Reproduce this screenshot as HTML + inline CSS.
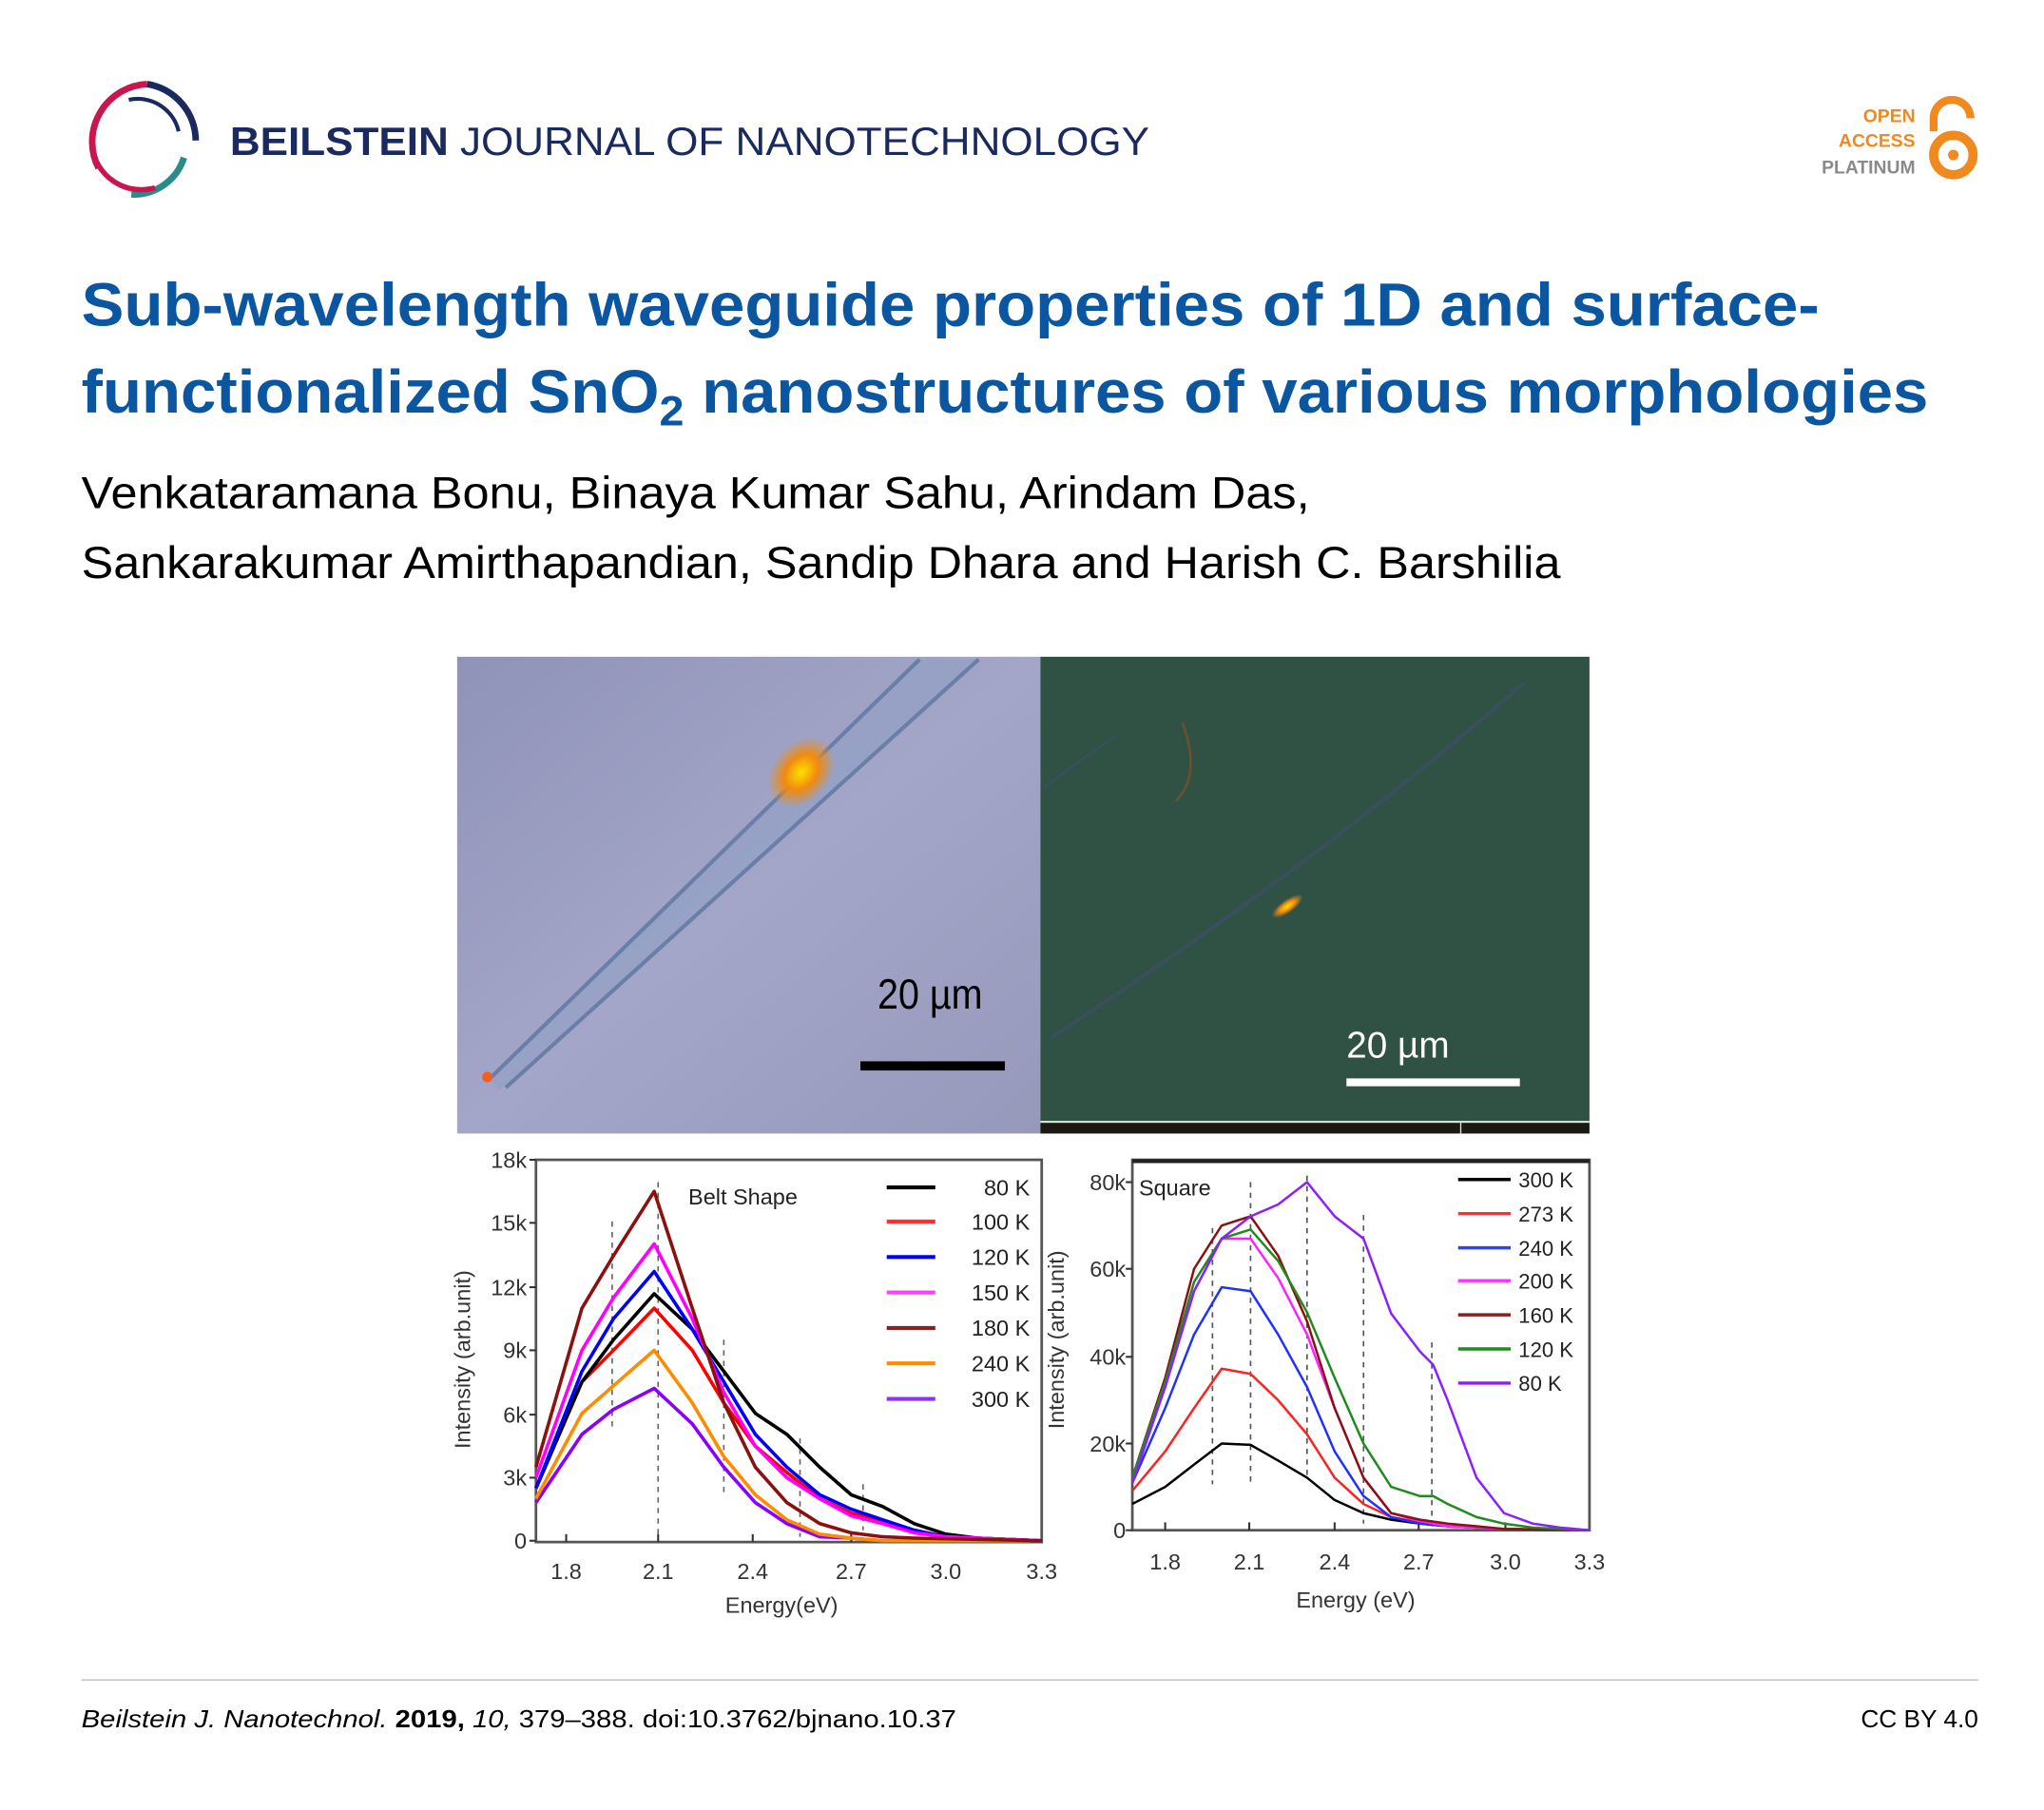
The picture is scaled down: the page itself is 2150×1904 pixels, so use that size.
<!DOCTYPE html>
<html><head><meta charset="utf-8"><style>
html,body{margin:0;padding:0;background:#fff;}
svg{display:block;}
text{font-family:"Liberation Sans",Arial,sans-serif;}
</style></head><body>
<svg width="2150" height="1904" viewBox="0 0 1556 1378" xmlns="http://www.w3.org/2000/svg">
<defs>
<linearGradient id="lp" x1="0" y1="0" x2="1" y2="1"><stop offset="0" stop-color="#8f93b8"/><stop offset="0.5" stop-color="#a3a6c8"/><stop offset="1" stop-color="#9799bb"/></linearGradient>
<radialGradient id="glow" cx="0.5" cy="0.5" r="0.5"><stop offset="0" stop-color="#ffe000"/><stop offset="0.5" stop-color="#f08a10"/><stop offset="1" stop-color="#f08a10" stop-opacity="0"/></radialGradient>
</defs>
<!-- Logo -->
<path d="M75,128 A44,44 0 0 1 112,64" fill="none" stroke="#c8174f" stroke-width="5"/>
<path d="M112,64 A44,44 0 0 1 149,107" fill="none" stroke="#1b2a5e" stroke-width="5"/>
<path d="M140,120 A40,40 0 0 1 100,148" fill="none" stroke="#2b8a8a" stroke-width="5"/>
<path d="M70,112 A38,38 0 0 0 118,143" fill="none" stroke="#c8174f" stroke-width="4"/>
<path d="M98,76 A32,32 0 0 1 136,100" fill="none" stroke="#1b2a5e" stroke-width="3"/>
<text x="175" y="118" font-size="30" fill="#1b2a5e" textLength="700" lengthAdjust="spacingAndGlyphs"><tspan font-weight="bold">BEILSTEIN</tspan> JOURNAL OF NANOTECHNOLOGY</text>
<!-- Open access -->
<text x="1458" y="93" font-size="14" font-weight="bold" fill="#f0891e" text-anchor="end">OPEN</text>
<text x="1458" y="112" font-size="14" font-weight="bold" fill="#f0891e" text-anchor="end">ACCESS</text>
<text x="1458" y="132" font-size="14" font-weight="bold" fill="#8a8a8a" text-anchor="end">PLATINUM</text>
<path d="M1472,100 V90 A14,14 0 0 1 1500,90" fill="none" stroke="#f0891e" stroke-width="6"/>
<circle cx="1487" cy="118" r="15" fill="none" stroke="#f0891e" stroke-width="7"/>
<circle cx="1487" cy="118" r="4" fill="#f0891e"/>
<!-- Title -->
<text x="62" y="248" font-size="46" font-weight="bold" fill="#0a56a0" textLength="1323" lengthAdjust="spacingAndGlyphs">Sub-wavelength waveguide properties of 1D and surface-</text>
<text x="62" y="314" font-size="46" font-weight="bold" fill="#0a56a0" textLength="1406" lengthAdjust="spacingAndGlyphs">functionalized SnO<tspan font-size="32" dy="10">2</tspan><tspan dy="-10"> nanostructures of various morphologies</tspan></text>
<text x="62" y="387" font-size="34" fill="#000" textLength="935" lengthAdjust="spacingAndGlyphs">Venkataramana Bonu, Binaya Kumar Sahu, Arindam Das,</text>
<text x="62" y="440" font-size="34" fill="#000" textLength="1126" lengthAdjust="spacingAndGlyphs">Sankarakumar Amirthapandian, Sandip Dhara and Harish C. Barshilia</text>
<!-- Photos -->
<rect x="348" y="500" width="444" height="363" fill="url(#lp)"/>
<path d="M372,822 L700,502 L745,502 L380,830 Z" fill="#8fa0c4" opacity="0.6"/>
<line x1="372" y1="822" x2="700" y2="502" stroke="#6a7fa8" stroke-width="3"/>
<line x1="385" y1="828" x2="745" y2="502" stroke="#6a7fa8" stroke-width="3"/>
<ellipse cx="610" cy="588" rx="22" ry="30" fill="url(#glow)" transform="rotate(40 610 588)"/>
<circle cx="371" cy="820" r="4" fill="#f06020"/>
<text x="668" y="768" font-size="32" fill="#000" textLength="80" lengthAdjust="spacingAndGlyphs">20 µm</text>
<rect x="655" y="808" width="110" height="7" fill="#000"/>
<rect x="792" y="500" width="418" height="355" fill="#2f5245"/>
<path d="M800,790 Q1000,660 1160,520" fill="none" stroke="#3a4e5c" stroke-width="3"/>
<path d="M795,600 Q820,580 850,560" fill="none" stroke="#3a4e5c" stroke-width="2"/>
<path d="M900,550 Q915,590 895,610" fill="none" stroke="#6a5030" stroke-width="2"/>
<ellipse cx="980" cy="690" rx="14" ry="5" fill="url(#glow)" transform="rotate(-35 980 690)"/>
<text x="1025" y="805" font-size="28" fill="#fff">20 µm</text>
<rect x="1025" y="821" width="132" height="6" fill="#fff"/>
<rect x="792" y="855" width="418" height="8" fill="#1a1a10"/>
<line x1="792" y1="854" x2="1210" y2="854" stroke="#ddd" stroke-width="1.5"/>
<line x1="1112" y1="854" x2="1112" y2="863" stroke="#ddd" stroke-width="1"/>
<!-- Left chart -->
<g>
<rect x="408" y="883" width="385" height="291" fill="none" stroke="#555" stroke-width="2"/>
<g stroke="#333" stroke-width="1.5">
<line x1="403" y1="883" x2="408" y2="883"/><line x1="403" y1="931" x2="408" y2="931"/><line x1="403" y1="980" x2="408" y2="980"/><line x1="403" y1="1028" x2="408" y2="1028"/><line x1="403" y1="1077" x2="408" y2="1077"/><line x1="403" y1="1125" x2="408" y2="1125"/><line x1="403" y1="1173" x2="408" y2="1173"/>
<line x1="431" y1="1174" x2="431" y2="1168"/><line x1="501" y1="1174" x2="501" y2="1168"/><line x1="573" y1="1174" x2="573" y2="1168"/><line x1="648" y1="1174" x2="648" y2="1168"/><line x1="720" y1="1174" x2="720" y2="1168"/>
</g>
<g font-size="17" fill="#333" text-anchor="end">
<text x="401" y="889">18k</text><text x="401" y="937">15k</text><text x="401" y="986">12k</text><text x="401" y="1034">9k</text><text x="401" y="1083">6k</text><text x="401" y="1131">3k</text><text x="401" y="1179">0</text>
</g>
<g font-size="17" fill="#333" text-anchor="middle">
<text x="431" y="1202">1.8</text><text x="501" y="1202">2.1</text><text x="573" y="1202">2.4</text><text x="648" y="1202">2.7</text><text x="720" y="1202">3.0</text><text x="793" y="1202">3.3</text>
<text x="595" y="1228">Energy(eV)</text>
</g>
<text transform="translate(358,1035) rotate(-90)" font-size="17" fill="#333" text-anchor="middle">Intensity (arb.unit)</text>
<text x="524" y="917" font-size="17" fill="#222">Belt Shape</text>
<g stroke="#666" stroke-width="1.2" stroke-dasharray="4,4">
<line x1="466" y1="930" x2="466" y2="1090"/><line x1="501" y1="900" x2="501" y2="1170"/><line x1="551" y1="1020" x2="551" y2="1140"/><line x1="609" y1="1095" x2="609" y2="1170"/><line x1="657" y1="1130" x2="657" y2="1165"/>
</g>
<g fill="none" stroke-width="2.6" stroke-linejoin="round">
<polyline stroke="#8a00ff" points="408,1144 443,1092 467,1073 498,1057 527,1084 551,1117 575,1144 599,1160 624,1170 648,1171 672,1173 793,1173"/>
<polyline stroke="#ff8c00" points="408,1141 443,1076 467,1055 498,1028 527,1068 551,1109 575,1138 599,1157 624,1168 648,1171 672,1173 793,1173"/>
<polyline stroke="#ff0000" points="408,1133 443,1052 467,1028 498,996 527,1028 551,1068 575,1101 599,1121 624,1141 648,1152 672,1158 696,1165 720,1170 744,1171 793,1173"/>
<polyline stroke="#000" points="408,1133 443,1052 467,1020 498,985 527,1012 551,1044 575,1076 599,1092 624,1117 648,1138 672,1147 696,1160 720,1168 744,1171 793,1173"/>
<polyline stroke="#0000ff" points="408,1133 443,1044 467,1004 498,968 527,1012 551,1052 575,1092 599,1117 624,1138 648,1149 672,1157 696,1165 720,1170 744,1171 793,1173"/>
<polyline stroke="#ff00ff" points="408,1125 443,1028 467,988 498,947 527,1004 551,1060 575,1101 599,1125 624,1141 648,1154 672,1160 696,1167 720,1170 744,1171 793,1173"/>
<polyline stroke="#8b1010" points="408,1117 443,996 467,956 498,907 527,996 551,1068 575,1117 599,1144 624,1160 648,1167 672,1170 696,1171 793,1173"/>
</g>
<g stroke-width="3">
<line x1="675" y1="904" x2="712" y2="904" stroke="#000"/><line x1="675" y1="930" x2="712" y2="930" stroke="#ff3030"/><line x1="675" y1="957" x2="712" y2="957" stroke="#0000ff"/><line x1="675" y1="984" x2="712" y2="984" stroke="#ff40ff"/><line x1="675" y1="1011" x2="712" y2="1011" stroke="#8b2020"/><line x1="675" y1="1038" x2="712" y2="1038" stroke="#ff8c00"/><line x1="675" y1="1065" x2="712" y2="1065" stroke="#9030ff"/>
</g>
<g font-size="17" fill="#222" text-anchor="end">
<text x="784" y="910">80 K</text><text x="784" y="936">100 K</text><text x="784" y="963">120 K</text><text x="784" y="990">150 K</text><text x="784" y="1017">180 K</text><text x="784" y="1044">240 K</text><text x="784" y="1071">300 K</text>
</g>
</g>
<!-- Right chart -->
<g>
<rect x="862" y="883" width="348" height="282" fill="none" stroke="#555" stroke-width="2"/>
<line x1="862" y1="884" x2="1210" y2="884" stroke="#222" stroke-width="3"/>
<g stroke="#333" stroke-width="1.5">
<line x1="857" y1="900" x2="862" y2="900"/><line x1="857" y1="966" x2="862" y2="966"/><line x1="857" y1="1033" x2="862" y2="1033"/><line x1="857" y1="1099" x2="862" y2="1099"/><line x1="857" y1="1165" x2="862" y2="1165"/>
<line x1="887" y1="1165" x2="887" y2="1159"/><line x1="951" y1="1165" x2="951" y2="1159"/><line x1="1016" y1="1165" x2="1016" y2="1159"/><line x1="1080" y1="1165" x2="1080" y2="1159"/><line x1="1146" y1="1165" x2="1146" y2="1159"/>
</g>
<g font-size="17" fill="#333" text-anchor="end">
<text x="857" y="906">80k</text><text x="857" y="972">60k</text><text x="857" y="1039">40k</text><text x="857" y="1105">20k</text><text x="857" y="1171">0</text>
</g>
<g font-size="17" fill="#333" text-anchor="middle">
<text x="887" y="1195">1.8</text><text x="951" y="1195">2.1</text><text x="1016" y="1195">2.4</text><text x="1080" y="1195">2.7</text><text x="1146" y="1195">3.0</text><text x="1210" y="1195">3.3</text>
<text x="1032" y="1224">Energy (eV)</text>
</g>
<text transform="translate(810,1020) rotate(-90)" font-size="17" fill="#333" text-anchor="middle">Intensity (arb.unit)</text>
<text x="867" y="910" font-size="17" fill="#222">Square</text>
<g stroke="#555" stroke-width="1.2" stroke-dasharray="4,4">
<line x1="923" y1="935" x2="923" y2="1130"/><line x1="952" y1="900" x2="952" y2="1130"/><line x1="995" y1="895" x2="995" y2="1125"/><line x1="1038" y1="925" x2="1038" y2="1160"/><line x1="1090" y1="1022" x2="1090" y2="1165"/>
</g>
<g fill="none" stroke-width="1.8" stroke-linejoin="round">
<polyline stroke="#000" points="862,1145 887,1132 909,1115 930,1099 952,1100 973,1112 995,1125 1016,1142 1038,1152 1059,1157 1081,1160 1102,1162 1145,1164 1210,1165"/>
<polyline stroke="#ff2020" points="862,1135 887,1105 909,1072 930,1042 952,1046 973,1066 995,1092 1016,1125 1038,1145 1059,1155 1081,1159 1102,1162 1145,1164 1210,1165"/>
<polyline stroke="#2030ff" points="862,1129 887,1072 909,1016 930,980 952,983 973,1016 995,1056 1016,1105 1038,1139 1059,1155 1081,1160 1102,1162 1145,1164 1210,1165"/>
<polyline stroke="#ff20ff" points="862,1125 887,1056 909,983 930,943 952,943 973,973 995,1016 1016,1072 1038,1125 1059,1152 1081,1158 1102,1162 1145,1164 1210,1165"/>
<polyline stroke="#8b1010" points="862,1125 887,1049 909,966 930,933 952,926 973,956 995,1006 1016,1072 1038,1125 1059,1152 1081,1157 1102,1160 1124,1162 1145,1164 1210,1165"/>
<polyline stroke="#208a20" points="862,1125 887,1052 909,976 930,943 952,936 973,960 995,999 1016,1049 1038,1099 1059,1132 1081,1139 1091,1139 1102,1145 1124,1155 1145,1160 1167,1163 1210,1165"/>
<polyline stroke="#8a20ff" points="862,1129 887,1056 909,983 930,943 952,926 973,917 995,900 1016,926 1038,943 1059,1000 1081,1029 1091,1039 1102,1066 1124,1125 1145,1152 1167,1160 1188,1163 1210,1165"/>
</g>
<g stroke-width="2.5">
<line x1="1110" y1="898" x2="1150" y2="898" stroke="#000"/><line x1="1110" y1="924" x2="1150" y2="924" stroke="#ff3030"/><line x1="1110" y1="950" x2="1150" y2="950" stroke="#3040ff"/><line x1="1110" y1="975" x2="1150" y2="975" stroke="#ff30ff"/><line x1="1110" y1="1001" x2="1150" y2="1001" stroke="#8b2020"/><line x1="1110" y1="1027" x2="1150" y2="1027" stroke="#208a20"/><line x1="1110" y1="1053" x2="1150" y2="1053" stroke="#8a20ff"/>
</g>
<g font-size="16" fill="#222">
<text x="1156" y="904">300 K</text><text x="1156" y="930">273 K</text><text x="1156" y="956">240 K</text><text x="1156" y="981">200 K</text><text x="1156" y="1007">160 K</text><text x="1156" y="1033">120 K</text><text x="1156" y="1059">80 K</text>
</g>
</g>
<!-- Footer -->
<line x1="62" y1="1279" x2="1506" y2="1279" stroke="#bbb" stroke-width="1"/>
<text x="62" y="1315" font-size="19" fill="#000" textLength="666" lengthAdjust="spacingAndGlyphs"><tspan font-style="italic">Beilstein J. Nanotechnol.</tspan> <tspan font-weight="bold">2019,</tspan> <tspan font-style="italic">10,</tspan> 379–388. doi:10.3762/bjnano.10.37</text>
<text x="1506" y="1315" font-size="19" fill="#000" text-anchor="end">CC BY 4.0</text>
</svg>
</body></html>
